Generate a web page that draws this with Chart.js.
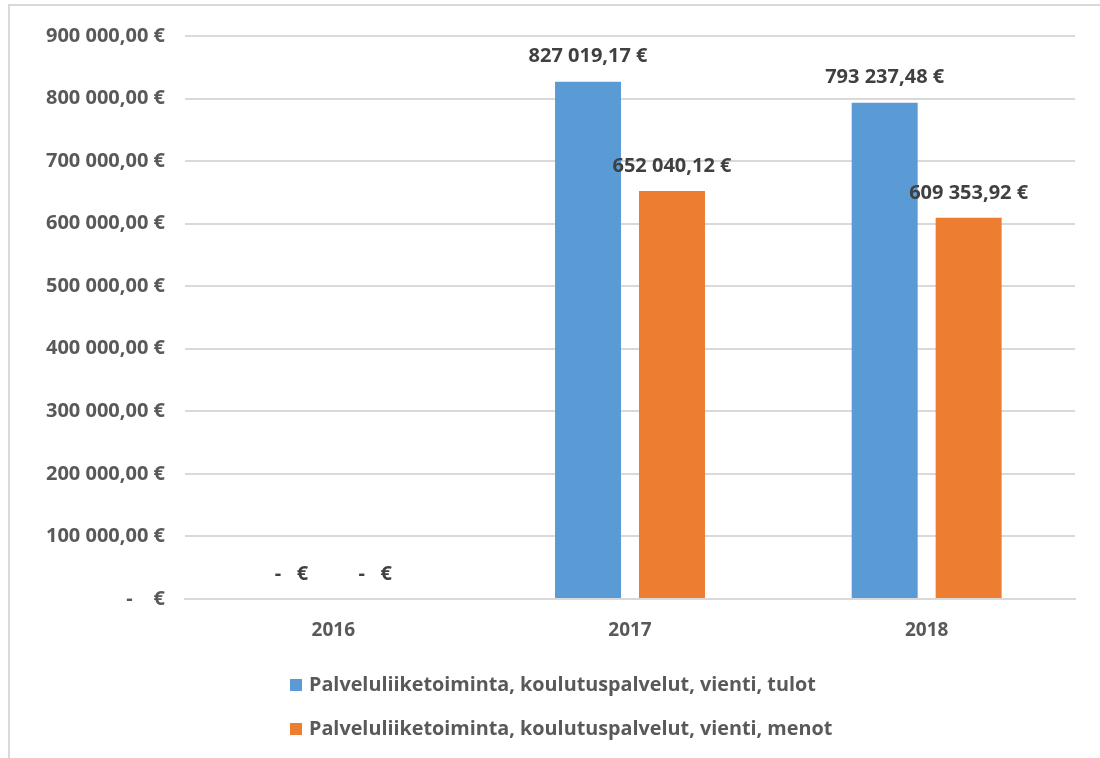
<!DOCTYPE html>
<html>
<head>
<meta charset="utf-8">
<script src="https://cdn.jsdelivr.net/npm/chart.js@4"></script>
<style>
    body { margin: 0; background: #fff; }
    #wrap { position: absolute; left: 0; top: 0; width: 1100px; height: 758px; }
</style>
</head>
<body>
<div id="wrap"><canvas id="chart" width="1100" height="758"></canvas></div>
<script>
// Data
const years = ['2016', '2017', '2018'];
const tulot = [0, 827019.17, 793237.48];
const menot = [0, 652040.12, 609353.92];
const seriesNames = [
    'Palveluliiketoiminta, koulutuspalvelut, vienti, tulot',
    'Palveluliiketoiminta, koulutuspalvelut, vienti, menot'
];
const seriesColors = ['#5B9BD5', '#ED7D31'];
const yMax = 900000;
const yStep = 100000;

const FONT = '"Open Sans", sans-serif';

// Excel accounting style: 827 019,17 €  /  zero -> "-  €"
function euro(v, zero) {
    if (v === 0) return zero;
    const parts = v.toFixed(2).split('.');
    const int = parts[0].replace(/\B(?=(\d{3})+(?!\d))/g, ' ');
    return int + ',' + parts[1] + ' €';
}

// Background, frame, data labels and legend
const decor = {
    id: 'decor',
    beforeDraw(chart) {
        const ctx = chart.ctx;
        ctx.save();
        ctx.fillStyle = '#fff';
        ctx.fillRect(0, 0, chart.width, chart.height);
        ctx.strokeStyle = '#d9d9d9';
        ctx.lineWidth = 2;
        ctx.beginPath();
        ctx.moveTo(9, 758);
        ctx.lineTo(9, 5);
        ctx.lineTo(1100, 5);
        ctx.stroke();
        ctx.restore();
    },
    afterDatasetsDraw(chart) {
        const ctx = chart.ctx;
        ctx.save();
        ctx.font = 'bold 20px ' + FONT;
        ctx.fillStyle = '#404040';
        ctx.textAlign = 'center';
        ctx.textBaseline = 'middle';
        chart.data.datasets.forEach((ds, i) => {
            chart.getDatasetMeta(i).data.forEach((bar, j) => {
                ctx.fillText(euro(ds.data[j], '-   €'), bar.x, bar.y - 25);
            });
        });

        // legend, stacked and left aligned
        ctx.font = 'bold 19.8px ' + FONT;
        ctx.textAlign = 'left';
        seriesNames.forEach((name, i) => {
            const y = 685 + i * 44;
            ctx.fillStyle = seriesColors[i];
            ctx.fillRect(290, y - 6, 12, 12);
            ctx.fillStyle = '#595959';
            ctx.fillText(name, 309, y);
        });
        ctx.restore();
    }
};

new Chart(document.getElementById('chart'), {
    type: 'bar',
    data: {
        labels: years,
        datasets: [
            { label: seriesNames[0], data: tulot, backgroundColor: seriesColors[0] },
            { label: seriesNames[1], data: menot, backgroundColor: seriesColors[1] }
        ]
    },
    options: {
        responsive: false,
        animation: false,
        categoryPercentage: 0.566,
        barPercentage: 0.786,
        layout: { padding: { top: 36, right: 25, bottom: 99, left: 0 } },
        plugins: {
            legend: { display: false },
            tooltip: { enabled: false }
        },
        scales: {
            x: {
                grid: { display: false, drawTicks: false },
                border: { display: true, color: '#d9d9d9', width: 2 },
                ticks: { color: '#595959', font: { family: FONT, size: 19, weight: 'bold' }, padding: 20 },
                afterFit: s => { s.height = 60; }
            },
            y: {
                min: 0,
                max: yMax,
                ticks: {
                    stepSize: yStep,
                    color: '#595959',
                    font: { family: FONT, size: 20, weight: 'bold' },
                    padding: 20,
                    callback: v => euro(v, '-    €')
                },
                grid: { color: '#d9d9d9', lineWidth: 2, drawTicks: false },
                border: { display: false },
                afterFit: s => { s.width = 185; }
            }
        }
    },
    plugins: [decor]
});
</script>
</body>
</html>
